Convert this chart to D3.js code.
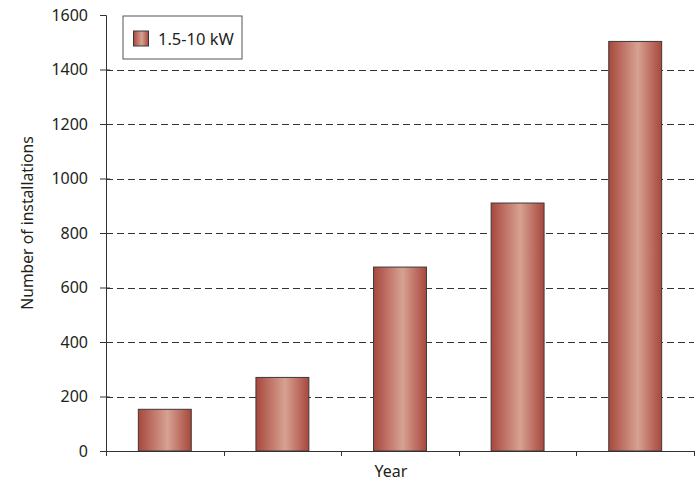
<!DOCTYPE html>
<html>
<head>
<meta charset="utf-8">
<script src="https://cdn.jsdelivr.net/npm/d3@7"></script>
<style>
  body { margin: 0; background: #fff; }
  text { font-family: "Noto Sans", "Open Sans", sans-serif; fill: #231f20; }
</style>
</head>
<body>
<svg id="chart" width="699" height="483"></svg>
<script>
const years = ["Y1", "Y2", "Y3", "Y4", "Y5"];
const installs = [153, 270, 675, 910, 1503];
const yTicks = [0, 200, 400, 600, 800, 1000, 1200, 1400, 1600];
const seriesName = "1.5-10 kW";

const width = 699, height = 483;
const margin = { top: 15, right: 5, bottom: 32, left: 106 };
const innerWidth = width - margin.left - margin.right;
const innerHeight = height - margin.top - margin.bottom;

const svg = d3.select("#chart");

// gradient for the bars, dark edges and a light strip in the middle
const defs = svg.append("defs");
const grad = defs.append("linearGradient")
  .attr("id", "barGrad")
  .attr("x1", "0%").attr("x2", "100%").attr("y1", "0%").attr("y2", "0%");
grad.append("stop").attr("offset", "0%").attr("stop-color", "#a9473d");
grad.append("stop").attr("offset", "55%").attr("stop-color", "#d6a292");
grad.append("stop").attr("offset", "100%").attr("stop-color", "#a9473d");

const g = svg.append("g")
  .attr("transform", `translate(${margin.left},${margin.top})`);

const x = d3.scaleBand()
  .domain(years)
  .range([0, innerWidth])
  .paddingInner(0.55)
  .paddingOuter(0.275);

const y = d3.scaleLinear()
  .domain([0, 1600])
  .range([innerHeight, 0]);

// dashed gridlines (none on the baseline or the top)
g.append("g")
  .selectAll("line")
  .data(yTicks.filter(d => d > 0 && d < 1600))
  .join("line")
    .attr("x1", 0)
    .attr("x2", innerWidth)
    .attr("y1", d => Math.round(y(d)) + 0.5)
    .attr("y2", d => Math.round(y(d)) + 0.5)
    .attr("stroke", "#333")
    .attr("stroke-width", 1)
    .attr("stroke-dasharray", "7,4");

// bars
g.selectAll("rect.bar")
  .data(years.map((yr, i) => ({ yr, v: installs[i] })))
  .join("rect")
    .attr("class", "bar")
    .attr("x", d => x(d.yr))
    .attr("y", d => y(d.v))
    .attr("width", x.bandwidth())
    .attr("height", d => innerHeight - y(d.v))
    .attr("fill", "url(#barGrad)")
    .attr("stroke", "#3a3a3a")
    .attr("stroke-width", 1);

// y axis
const yAxis = g.append("g")
  .call(d3.axisLeft(y).tickValues(yTicks).tickSize(6).tickPadding(12).tickFormat(d3.format("d")));
yAxis.select(".domain").attr("stroke", "#333");
yAxis.selectAll(".tick line").attr("stroke", "#333").attr("x2", -6).attr("x1", d => d === 1600 ? 0 : 4);
yAxis.selectAll(".tick text")
  .attr("font-size", 16)
  .attr("font-family", "'Noto Sans', 'Open Sans', sans-serif")
  .attr("fill", "#231f20");

// x axis: baseline with boundary ticks between categories
g.append("line")
  .attr("x1", -6).attr("x2", innerWidth)
  .attr("y1", innerHeight + 0.5).attr("y2", innerHeight + 0.5)
  .attr("stroke", "#333");

const bounds = d3.range(years.length + 1).map(i => i * x.step());
g.append("g")
  .selectAll("line")
  .data(bounds)
  .join("line")
    .attr("x1", d => Math.round(d) + 0.5)
    .attr("x2", d => Math.round(d) + 0.5)
    .attr("y1", innerHeight)
    .attr("y2", innerHeight + 5)
    .attr("stroke", "#333");

// axis titles
svg.append("text")
  .attr("x", 391)
  .attr("y", 477)
  .attr("text-anchor", "middle")
  .attr("font-size", 16)
  .text("Year");

svg.append("text")
  .attr("transform", "translate(33,223) rotate(-90)")
  .attr("text-anchor", "middle")
  .attr("font-size", 15.7)
  .text("Number of installations");

// legend
const leg = svg.append("g").attr("transform", "translate(123,16)");
leg.append("rect")
  .attr("width", 119).attr("height", 43)
  .attr("fill", "#fff")
  .attr("stroke", "#555")
  .attr("stroke-width", 1);
leg.append("rect")
  .attr("x", 10.5).attr("y", 15)
  .attr("width", 15).attr("height", 15)
  .attr("fill", "url(#barGrad)")
  .attr("stroke", "#3a3a3a");
leg.append("text")
  .attr("x", 35).attr("y", 29)
  .attr("font-size", 16.5)
  .text(seriesName);
</script>
</body>
</html>
